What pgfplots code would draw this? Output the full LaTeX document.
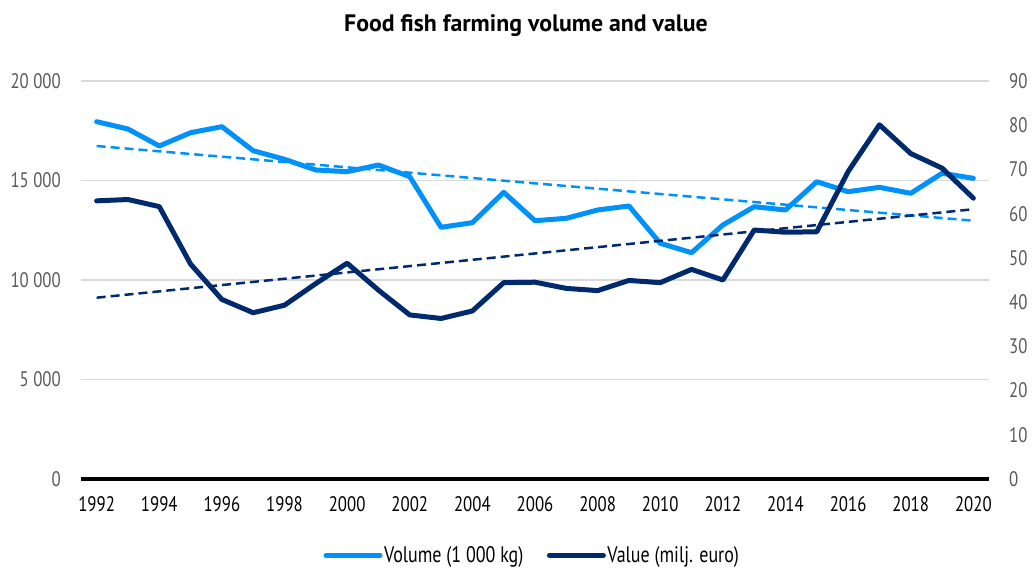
\documentclass[border=0pt]{standalone}
\usepackage{fontspec}
\setmainfont{PT Sans}[FakeStretch=0.8]
\newfontfamily\titlefont{PT Sans}
\usepackage{pgfplots}
\pgfplotsset{compat=1.18}
\definecolor{vol}{RGB}{0,146,250}
\definecolor{val}{RGB}{0,42,110}
\definecolor{gridc}{RGB}{217,217,217}
\definecolor{lbl}{RGB}{89,89,89}

\pgfplotstableread{
year vol val
1992 17955 62.9
1993 17588 63.2
1994 16734 61.6
1995 17402 48.6
1996 17704 40.6
1997 16497 37.6
1998 16065 39.3
1999 15528 44.2
2000 15443 48.8
2001 15779 42.7
2002 15191 37.1
2003 12648 36.3
2004 12880 38.0
2005 14407 44.4
2006 12980 44.5
2007 13100 43.1
2008 13518 42.6
2009 13719 44.9
2010 11844 44.4
2011 11372 47.4
2012 12764 45.0
2013 13683 56.3
2014 13518 55.8
2015 14940 55.9
2016 14437 69.5
2017 14657 80.1
2018 14356 73.6
2019 15362 70.3
2020 15110 63.5
}\data

\pgfplotsset{
  common/.style={
    at={(81pt,91pt)}, anchor=south west,
    scale only axis, width=908pt, height=398pt,
    xmin=1991.5, xmax=2020.5,
    major tick length=0pt,
    tick label style={font=\fontsize{21}{24}\selectfont},
    /pgf/number format/assume math mode=true,
    scaled y ticks=false,
  }
}

\begin{document}
\begin{tikzpicture}[x=1pt,y=1pt]
\path[use as bounding box] (0,0) rectangle (1032,570);
\node at (526,544) {\titlefont\bfseries\fontsize{23.8}{28}\selectfont Food fish farming volume and value};

\begin{axis}[common,
  ymin=0, ymax=20000,
  axis x line*=bottom, axis y line*=left,
  x axis line style={black, line width=4.5pt},
  y axis line style={draw=none},
  ytick={0,5000,10000,15000,20000},
  yticklabels={0,5 000,10 000,15 000,20 000},
  yticklabel style={text=lbl, anchor=east, inner sep=0pt, xshift=-20pt},
  xtick={1992,1994,...,2020},
  xticklabels={1992,1994,1996,1998,2000,2002,2004,2006,2008,2010,2012,2014,2016,2018,2020},
  xticklabel style={text=black, anchor=north, inner sep=0pt, yshift=-17pt},
  ymajorgrids, grid style={gridc, line width=1.5pt},
  clip=false,
]
\addplot[vol, line width=2.5pt, dash pattern=on 9pt off 5pt] coordinates {(1992,16734) (2020,12980)};
\addplot[vol, line width=5pt, line join=round, line cap=round] table[x=year,y=vol] {\data};
\end{axis}

\begin{axis}[common,
  ymin=0, ymax=90,
  axis x line=none, axis y line*=right,
  y axis line style={draw=none},
  ytick={0,10,...,90},
  yticklabel style={text=lbl, anchor=west, inner sep=0pt, xshift=20pt},
  legend style={draw=none, fill=none, at={(0.4967,-0.192)}, anchor=center,
    font=\fontsize{22.5}{26}\selectfont, inner sep=0pt,
    nodes={inner sep=1.5pt},
    /tikz/every even column/.append style={column sep=22pt}},
  legend columns=2,
  legend cell align=left,
  legend image code/.code={\draw[#1, line width=5pt, line cap=round] (0pt,0pt) -- (54pt,0pt);},
  clip=false,
]
\addlegendimage{vol}
\addlegendentry{Volume (1 000 kg)}
\addplot[val, line width=2.5pt, dash pattern=on 9pt off 5pt, forget plot] coordinates {(1992,41.0) (2020,61.0)};
\addplot[val, line width=5pt, line join=round, line cap=round] table[x=year,y=val] {\data};
\addlegendentry{Value (milj. euro)}
\end{axis}
\end{tikzpicture}
\end{document}
